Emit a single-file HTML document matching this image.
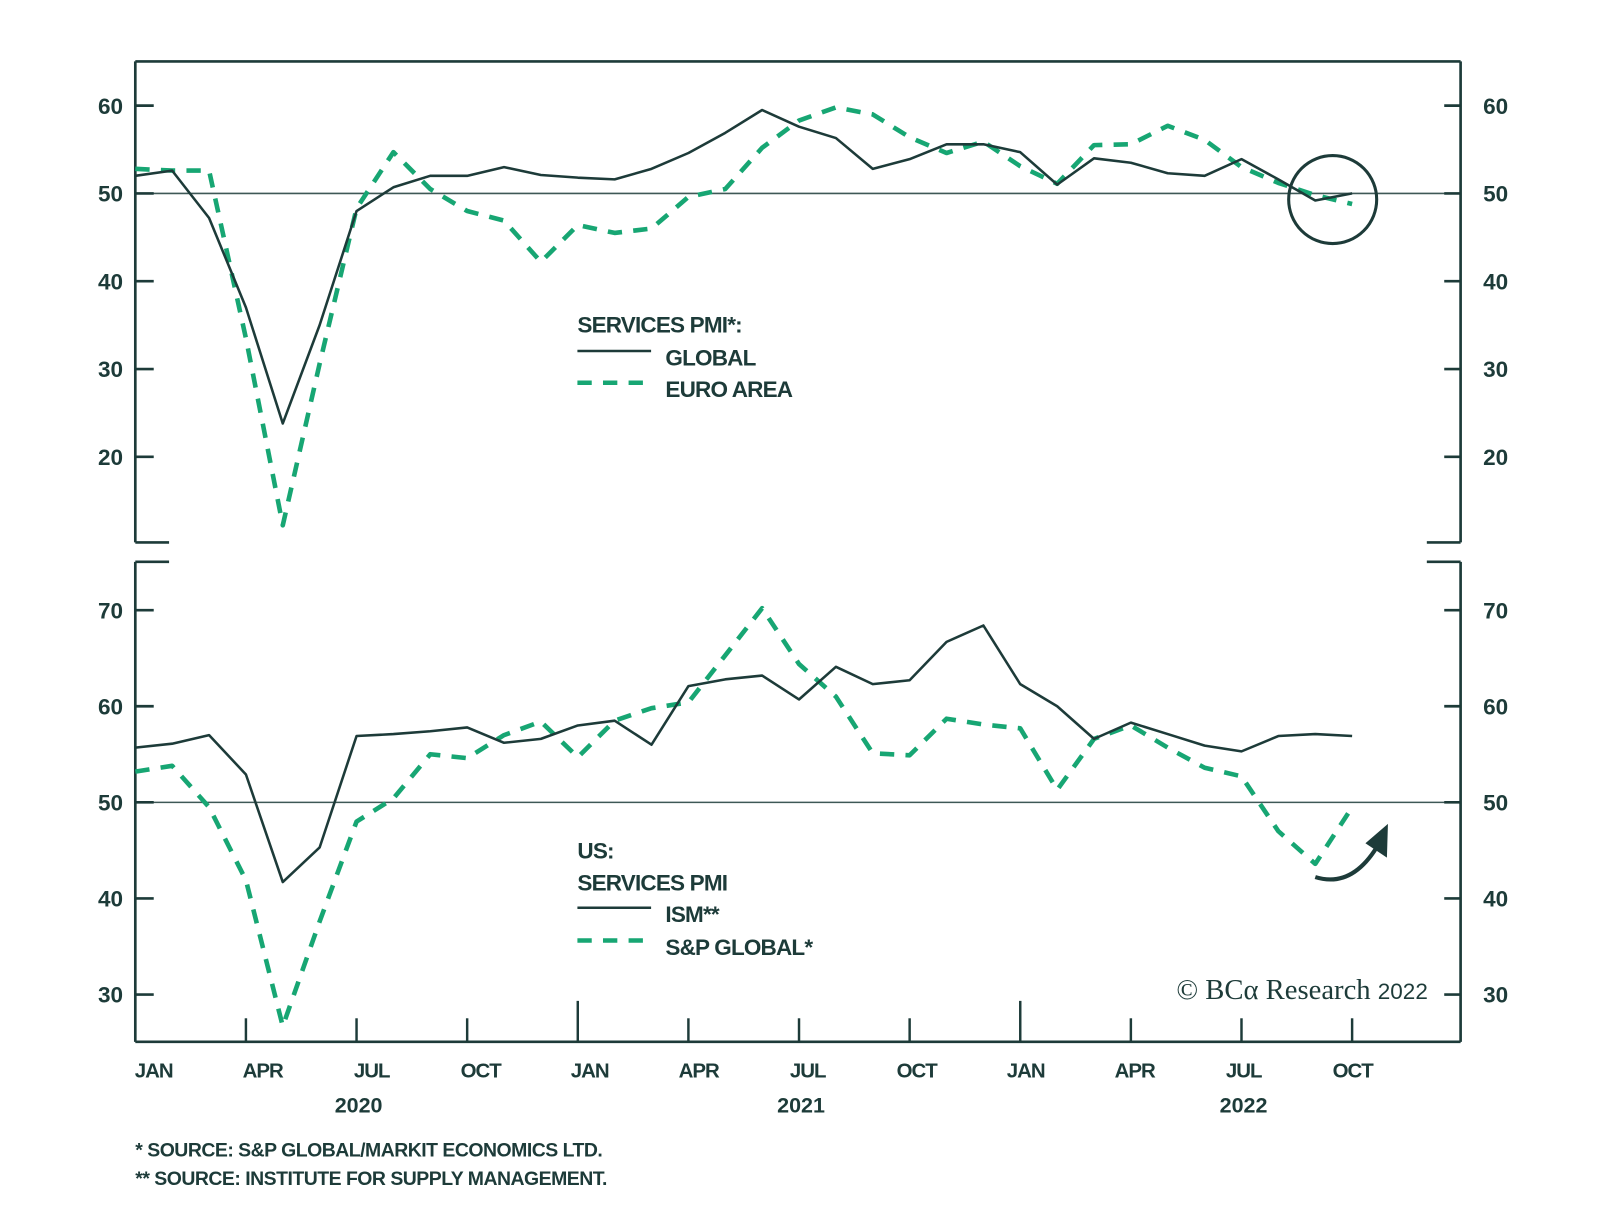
<!DOCTYPE html>
<html><head><meta charset="utf-8"><style>
html,body{margin:0;padding:0;background:#fff;}
svg{display:block;}
text{font-family:"Liberation Sans",sans-serif;fill:#1d3b39;font-weight:bold;}
</style></head><body>
<svg id="chart" width="1600" height="1225" viewBox="0 0 1563 1197" xmlns="http://www.w3.org/2000/svg">
<g id="frame" stroke="#1d3b39" stroke-width="2.6" fill="none">
<line x1="132" y1="60" x2="1427" y2="60"/>
<line x1="132" y1="60" x2="132" y2="530"/>
<line x1="1427" y1="60" x2="1427" y2="530"/>
<line x1="132" y1="530" x2="165" y2="530"/>
<line x1="1394" y1="530" x2="1427" y2="530"/>
<line x1="132" y1="549" x2="165" y2="549"/>
<line x1="1394" y1="549" x2="1427" y2="549"/>
<line x1="132" y1="549" x2="132" y2="1018"/>
<line x1="1427" y1="549" x2="1427" y2="1018"/>
<line x1="132" y1="1018" x2="1427" y2="1018"/>
</g>
<g id="axes"></g>
<g id="series"></g>
<g>
<text x="564" y="325" font-size="22" letter-spacing="-0.8">SERVICES PMI*:</text>
<line x1="564" y1="343" x2="636" y2="343" stroke="#1d3b39" stroke-width="2.5"/>
<text x="650" y="357" font-size="22" letter-spacing="-0.8">GLOBAL</text>
<line x1="564" y1="374" x2="636" y2="374" stroke="#17a673" stroke-width="4.5" stroke-dasharray="14,11"/>
<text x="650" y="388" font-size="22" letter-spacing="-0.8">EURO AREA</text>
</g>
<g>
<text x="564" y="839" font-size="22" letter-spacing="-0.8">US:</text>
<text x="564" y="870" font-size="22" letter-spacing="-0.8">SERVICES PMI</text>
<line x1="564" y1="887" x2="636" y2="887" stroke="#1d3b39" stroke-width="2.5"/>
<text x="650" y="901" font-size="22" letter-spacing="-0.8">ISM**</text>
<line x1="564" y1="919" x2="636" y2="919" stroke="#17a673" stroke-width="4.5" stroke-dasharray="14,11"/>
<text x="650" y="933" font-size="22" letter-spacing="-0.8">S&amp;P GLOBAL*</text>
</g>
<circle cx="1302" cy="195" r="43" fill="none" stroke="#1d3b39" stroke-width="3"/>
<g>
<path d="M1285 857 Q1320 868 1345 828" fill="none" stroke="#1d3b39" stroke-width="4"/>
<polygon points="1356,805 1355,838 1334,824" fill="#1d3b39"/>
</g>
<text x="1395" y="976" font-size="28" text-anchor="end" style="font-family:'Liberation Serif',serif;font-weight:normal">© BCα Research <tspan style="font-family:'Liberation Sans',sans-serif" font-size="22">2022</tspan></text>
<text x="132" y="1130" font-size="19" letter-spacing="-0.5">*  SOURCE: S&amp;P GLOBAL/MARKIT ECONOMICS LTD.</text>
<text x="132" y="1158" font-size="19" letter-spacing="-0.5">** SOURCE: INSTITUTE FOR SUPPLY MANAGEMENT.</text>
</svg>
<script>
const months = ["JAN","APR","JUL","OCT","JAN","APR","JUL","OCT","JAN","APR","JUL","OCT"];
const years = ["2020","2021","2022"];
const topTicks = [20,30,40,50,60];
const bottomTicks = [30,40,50,60,70];
const globalPMI = [52,52.6,47.2,37,23.8,35,48,50.7,52,52,53,52.1,51.8,51.6,52.8,54.6,56.9,59.5,57.6,56.3,52.8,53.9,55.6,55.6,54.7,51,54,53.5,52.3,52,53.9,51.6,49.2,50];
const euroPMI = [52.8,52.6,52.6,33.5,12.2,30.6,48.3,54.7,50.5,48,46.9,42.2,46.4,45.5,46,49.6,50.5,55.2,58.3,59.8,59,56.4,54.6,55.9,53.1,51.1,55.5,55.6,57.7,56.1,53,51.2,49.8,48.8];
const ismPMI = [55.7,56.1,57,52.9,41.7,45.3,56.9,57.1,57.4,57.8,56.2,56.6,58,58.5,56,62.1,62.8,63.2,60.7,64.1,62.3,62.7,66.7,68.4,62.3,60,56.6,58.3,57.1,55.9,55.3,56.9,57.1,56.9];
const spUSPMI = [53.2,53.8,49.5,41.9,26.7,37.6,48,50.4,55,54.6,57,58.4,54.7,58.5,59.8,60.4,65.3,70.2,64.4,61,55.1,54.9,58.7,58.1,57.7,51.3,56.6,58,55.7,53.6,52.7,47,43.6,49.5];

const NS="http://www.w3.org/2000/svg";
const X0=132, DX=36.03, XR=1427;
const xOf=i=>X0+DX*i;
const xLab=i=>150+35.5*i;
const yTop=v=>189-(v-50)*8.58;
const yBot=v=>784-(v-50)*9.39;
const axes=document.getElementById('axes'), ser=document.getElementById('series');
function mk(tag,attrs,parent){const e=document.createElementNS(NS,tag);for(const k in attrs)e.setAttribute(k,attrs[k]);parent.appendChild(e);return e;}

function yAxis(ticks,yf,name){
  ticks.forEach(t=>{
    const y=yf(t);
    const l=mk('line',{x1:X0,y1:y,x2:X0+18,y2:y,stroke:'#1d3b39','stroke-width':2.6},axes);
    
    
    const r=mk('line',{x1:XR-16,y1:y,x2:XR,y2:y,stroke:'#1d3b39','stroke-width':2.6},axes);
    
    
    const a=mk('text',{x:120,y:y+8,'font-size':22,'text-anchor':'end'},axes);a.textContent=t;
    
    
    const b=mk('text',{x:1449,y:y+8,'font-size':22},axes);b.textContent=t;
    
    
  });
  const ref=mk('line',{x1:X0,y1:yf(50),x2:XR,y2:yf(50),stroke:'#1d3b39','stroke-width':1.5,opacity:0.85},axes);
  
  
}
yAxis(topTicks,yTop,'top-axis');
yAxis(bottomTicks,yBot,'bottom-axis');

months.forEach((m,k)=>{
  const x=xOf(k*3);
  if(k>0){
    const t=mk('line',{x1:x,y1:(k%4===0)?978:995,x2:x,y2:1018,stroke:'#1d3b39','stroke-width':2.4},axes);
    
    
  }
  const lab=mk('text',{x:xLab(k*3),y:1053,'font-size':20,'text-anchor':'middle','letter-spacing':-1},axes);
  lab.textContent=m;
  
  
});
years.forEach((yr,k)=>{
  const lab=mk('text',{x:xOf(k*12+6)+2,y:1087,'font-size':21,'text-anchor':'middle'},axes);
  lab.textContent=yr;
  
  
});

function line(data,yf,dashed,name){
  const pts=data.map((v,i)=>xOf(i).toFixed(1)+','+yf(v).toFixed(1)).join(' ');
  const p=mk('polyline',{points:pts,fill:'none',stroke:dashed?'#17a673':'#1d3b39','stroke-width':dashed?4.5:2.5,'stroke-dasharray':dashed?'14,11':'none','stroke-linejoin':'round'},ser);
  
  
}
line(euroPMI,yTop,true,'euro-area-line');
line(globalPMI,yTop,false,'global-line');
line(spUSPMI,yBot,true,'sp-global-us-line');
line(ismPMI,yBot,false,'ism-line');
</script>
</body></html>
